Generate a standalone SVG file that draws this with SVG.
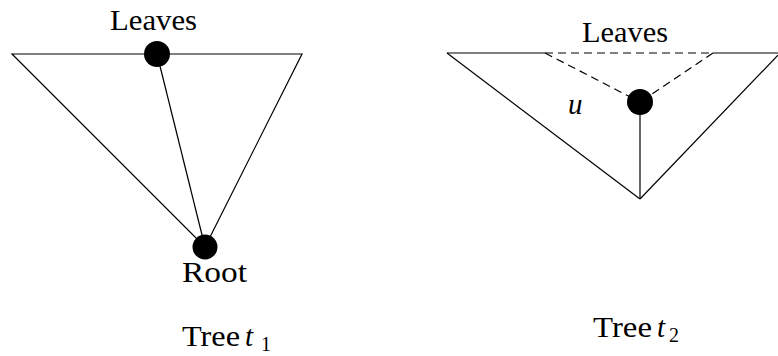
<svg xmlns="http://www.w3.org/2000/svg" width="778" height="356" viewBox="0 0 778 356">
<style>
.ln{stroke:#000;stroke-width:1.2;fill:none}
.dash{stroke:#000;stroke-width:1.2;fill:none;stroke-dasharray:8 5}
.dot{fill:#000}
.t{font-family:"Liberation Serif","DejaVu Serif",serif;font-size:29px;fill:#000}
.it{font-style:italic}
.sub{font-size:20px}
</style>
<rect width="778" height="356" fill="#fff"/>
<g id="connectors">
  <path class="ln" d="M12,54 L302,54 L205,247 Z"/>
  <line class="ln" x1="157" y1="54" x2="205" y2="247"/>
  <line class="ln" x1="447" y1="53" x2="545" y2="53"/>
  <line class="dash" x1="545" y1="53" x2="713" y2="53"/>
  <line class="ln" x1="713" y1="53" x2="780" y2="53"/>
  <line class="ln" x1="447" y1="53" x2="640" y2="199"/>
  <line class="ln" x1="780" y1="53" x2="640" y2="199"/>
  <line class="ln" x1="640" y1="102" x2="640" y2="199"/>
  <line class="dash" x1="545" y1="53" x2="640" y2="102"/>
  <line class="dash" x1="713" y1="53" x2="640" y2="102"/>
</g>
<g id="leaves1">
  <circle class="dot" cx="157" cy="54" r="13"/>
  <text class="t" x="110" y="30" textLength="87" lengthAdjust="spacingAndGlyphs">Leaves</text>
</g>
<g id="root1">
  <circle class="dot" cx="205" cy="247" r="12.5"/>
  <text class="t" x="182" y="282" textLength="65" lengthAdjust="spacingAndGlyphs">Root</text>
</g>
<g id="tree1label">
  <text class="t" x="182" y="346"><tspan textLength="58" lengthAdjust="spacingAndGlyphs">Tree</tspan> <tspan class="it" x="245">t</tspan><tspan class="sub" x="261" dy="5">1</tspan></text>
</g>
<g id="u">
  <circle class="dot" cx="640" cy="102" r="13"/>
  <text class="t it" x="568" y="114">u</text>
</g>
<g id="leaves2">
  <text class="t" x="582" y="42" textLength="86" lengthAdjust="spacingAndGlyphs">Leaves</text>
</g>
<g id="tree2label">
  <text class="t" x="593" y="337"><tspan textLength="59" lengthAdjust="spacingAndGlyphs">Tree</tspan> <tspan class="it" x="657">t</tspan><tspan class="sub" x="669" dy="5">2</tspan></text>
</g>
</svg>
